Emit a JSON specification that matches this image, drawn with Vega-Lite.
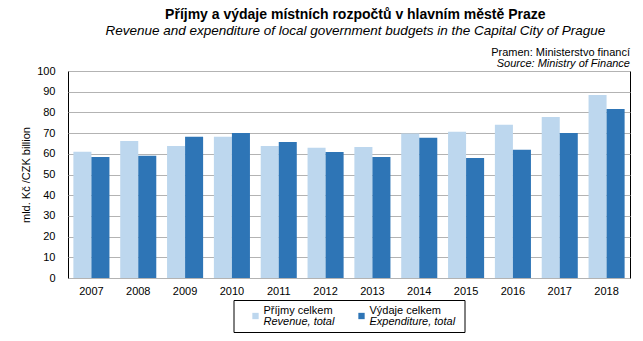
{
  "$schema": "https://vega.github.io/schema/vega-lite/v6.json",
  "padding": {"left": 20, "top": 8, "right": 10, "bottom": 5},
  "background": "white",
  "config": {
    "font": "Liberation Sans",
    "view": {"stroke": "black", "strokeWidth": 1},
    "axis": {"labelFont": "Liberation Sans", "titleFont": "Liberation Sans", "labelFontSize": 11, "titleFontSize": 11, "titleFontWeight": "normal", "labelColor": "black", "titleColor": "black"},
    "concat": {"spacing": 22}
  },
  "title": {
    "text": "Příjmy a výdaje místních rozpočtů v hlavním městě Praze",
    "subtitle": "Revenue  and expenditure  of local government  budgets in the Capital City of Prague",
    "anchor": "middle",
    "dx": 30,
    "fontSize": 14,
    "fontWeight": "bold",
    "subtitleFontSize": 13.5,
    "subtitleFontStyle": "italic",
    "subtitlePadding": 2,
    "color": "black",
    "subtitleColor": "black",
    "offset": 9
  },
  "datasets": {
    "budget": [
      {"year": "2007", "series": "Příjmy", "value": 61.0},
      {"year": "2007", "series": "Výdaje", "value": 58.5},
      {"year": "2008", "series": "Příjmy", "value": 66.2},
      {"year": "2008", "series": "Výdaje", "value": 59.0},
      {"year": "2009", "series": "Příjmy", "value": 63.8},
      {"year": "2009", "series": "Výdaje", "value": 68.2},
      {"year": "2010", "series": "Příjmy", "value": 68.2},
      {"year": "2010", "series": "Výdaje", "value": 70.1},
      {"year": "2011", "series": "Příjmy", "value": 63.8},
      {"year": "2011", "series": "Výdaje", "value": 65.7},
      {"year": "2012", "series": "Příjmy", "value": 62.9},
      {"year": "2012", "series": "Výdaje", "value": 60.9},
      {"year": "2013", "series": "Příjmy", "value": 63.3},
      {"year": "2013", "series": "Výdaje", "value": 58.5},
      {"year": "2014", "series": "Příjmy", "value": 69.8},
      {"year": "2014", "series": "Výdaje", "value": 67.7},
      {"year": "2015", "series": "Příjmy", "value": 70.6},
      {"year": "2015", "series": "Výdaje", "value": 58.0},
      {"year": "2016", "series": "Příjmy", "value": 74.0},
      {"year": "2016", "series": "Výdaje", "value": 61.9},
      {"year": "2017", "series": "Příjmy", "value": 77.8},
      {"year": "2017", "series": "Výdaje", "value": 70.1},
      {"year": "2018", "series": "Příjmy", "value": 88.4},
      {"year": "2018", "series": "Výdaje", "value": 81.7}
    ],
    "legend": [
      {"series": "Příjmy", "line1": "Příjmy celkem", "line2": "Revenue, total"},
      {"series": "Výdaje", "line1": "Výdaje celkem", "line2": "Expenditure, total"}
    ]
  },
  "vconcat": [
    {
      "width": 562,
      "height": 207,
      "title": {
        "text": "Pramen: Ministerstvo financí",
        "subtitle": "Source: Ministry of Finance",
        "anchor": "end",
        "frame": "group",
        "fontSize": 11,
        "fontWeight": "normal",
        "subtitleFontSize": 11,
        "subtitleFontStyle": "italic",
        "subtitlePadding": 0,
        "color": "black",
        "subtitleColor": "black",
        "offset": -4
      },
      "data": {"name": "budget"},
      "mark": {"type": "bar"},
      "encoding": {
        "x": {
          "field": "year", "type": "nominal", "title": null,
          "scale": {"paddingInner": 0.23, "paddingOuter": 0.115},
          "axis": {"labelAngle": 0, "ticks": false, "domain": false, "labelPadding": 7, "grid": false}
        },
        "xOffset": {"field": "series", "type": "nominal", "sort": ["Příjmy", "Výdaje"]},
        "y": {
          "field": "value", "type": "quantitative",
          "title": "mld. Kč /CZK billion",
          "scale": {"domain": [0, 100], "nice": false},
          "axis": {"values": [0,10,20,30,40,50,60,70,80,90,100], "ticks": false, "domain": false, "labelPadding": 13, "gridColor": "#b3b3b3", "gridWidth": 1, "titlePadding": 5}
        },
        "color": {
          "field": "series", "type": "nominal",
          "scale": {"domain": ["Příjmy", "Výdaje"], "range": ["#bdd7ee", "#2e75b6"]},
          "legend": null
        }
      }
    },
    {
      "width": 231,
      "height": 32,
      "data": {"name": "legend"},
      "encoding": {
        "x": {"field": "series", "type": "nominal", "scale": {"type": "point", "range": [22, 128], "padding": 0}, "axis": null}
      },
      "layer": [
        {
          "mark": {"type": "square", "size": 40, "opacity": 1, "filled": true},
          "encoding": {
            "color": {"field": "series", "type": "nominal", "scale": {"domain": ["Příjmy", "Výdaje"], "range": ["#bdd7ee", "#2e75b6"]}, "legend": null}
          }
        },
        {
          "mark": {"type": "text", "align": "left", "dx": 8, "dy": -5, "fontSize": 11, "color": "black"},
          "encoding": {"text": {"field": "line1"}}
        },
        {
          "mark": {"type": "text", "align": "left", "dx": 8, "dy": 6, "fontSize": 11, "fontStyle": "italic", "color": "black"},
          "encoding": {"text": {"field": "line2"}}
        }
      ]
    }
  ],
  "resolve": {"scale": {"color": "shared"}},
  "bounds": "flush",
  "center": true
}
